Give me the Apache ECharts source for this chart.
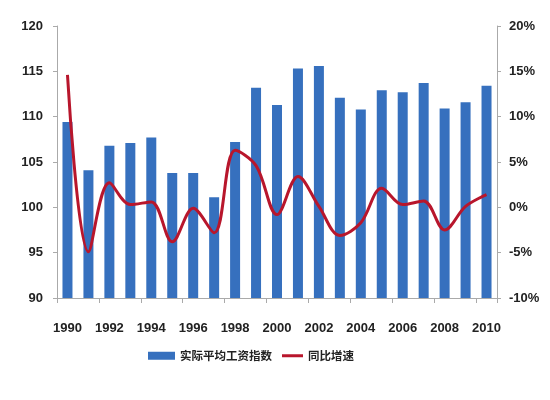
<!DOCTYPE html>
<html>
<head>
<meta charset="utf-8">
<script src="https://cdn.jsdelivr.net/npm/echarts@6/dist/echarts.min.js"></script>
<style>html,body{margin:0;padding:0;background:#fff}#c{width:550px;height:400px}</style>
</head>
<body>
<div id="c"></div>
<script>
const years = ['1990','1991','1992','1993','1994','1995','1996','1997','1998','1999','2000','2001','2002','2003','2004','2005','2006','2007','2008','2009','2010'];
const wageIndex = [109.4,104.1,106.8,107.1,107.7,103.8,103.8,101.1,107.2,113.2,111.3,115.3,115.6,112.1,110.8,112.9,112.7,113.7,110.9,111.6,113.4];
const growth = [14.6,-4.9,2.7,0.3,0.6,-3.8,-0.1,-2.8,6.3,4.6,-0.8,3.4,0.1,-3.1,-1.7,2.1,0.3,0.7,-2.5,0.1,1.4];
const leftTicks = {min:90, max:120, interval:5};
const rightTicks = {min:-10, max:20, interval:5};
const seriesNames = ['实际平均工资指数','同比增速'];

const chart = echarts.init(document.getElementById('c'), null, {renderer:'canvas'});
const labelStyle = {color:'#222', fontSize:13, fontWeight:'bold', fontFamily:'Liberation Sans, Arial, sans-serif'};
const legendText = {color:'#222', fontSize:11.5, fontWeight:'bold', fontFamily:'Noto Sans CJK SC, sans-serif'};
chart.setOption({
  animation:false,
  backgroundColor:'#fff',
  grid:{left:57, right:53, top:26, bottom:102, containLabel:false},
  legend:[
    {top:350, left:148, itemWidth:27, itemHeight:8, padding:0, itemGap:0,
     textStyle:legendText, data:[{name:seriesNames[0], icon:'rect'}]},
    {top:350, left:282, itemWidth:21, itemHeight:8, padding:0, itemGap:0,
     textStyle:legendText, data:[{name:seriesNames[1], icon:'path://M0,0H21V3H0Z'}]}
  ],
  xAxis:{
    type:'category', data:years, boundaryGap:true,
    axisLine:{onZero:false, lineStyle:{color:'#aaa', width:1}},
    axisTick:{show:true, interval:1, length:5, lineStyle:{color:'#aaa'}},
    axisLabel:Object.assign({interval:1, margin:24}, labelStyle)
  },
  yAxis:[
    {type:'value', min:leftTicks.min, max:leftTicks.max, interval:leftTicks.interval,
     splitLine:{show:false},
     axisLine:{show:true, lineStyle:{color:'#aaa'}},
     axisTick:{show:true, length:4, lineStyle:{color:'#aaa'}},
     axisLabel:Object.assign({margin:14}, labelStyle)},
    {type:'value', min:rightTicks.min, max:rightTicks.max, interval:rightTicks.interval,
     splitLine:{show:false},
     axisLine:{show:true, lineStyle:{color:'#aaa'}},
     axisTick:{show:true, length:4, lineStyle:{color:'#aaa'}},
     axisLabel:Object.assign({margin:12, formatter:'{value}%'}, labelStyle)}
  ],
  series:[
    {name:seriesNames[0], type:'bar', data:wageIndex, yAxisIndex:0, barWidth:10,
     itemStyle:{color:'#3670be'}},
    {name:seriesNames[1], type:'line', data:growth, yAxisIndex:1, smooth:0.35,
     symbol:'none', lineStyle:{color:'#b8162c', width:3}, itemStyle:{color:'#b8162c'}}
  ]
});
</script>
</body>
</html>
